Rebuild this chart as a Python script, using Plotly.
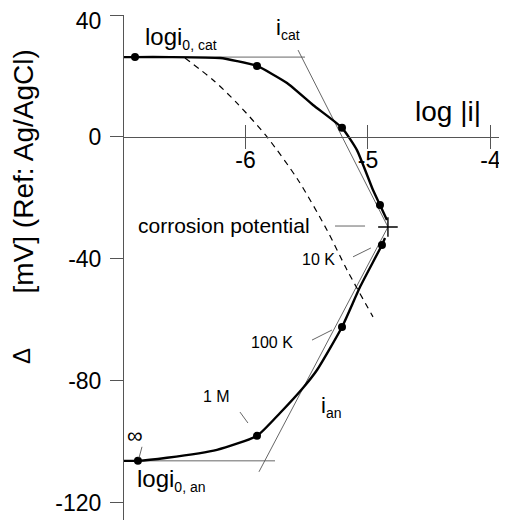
import plotly.graph_objects as go

# ---------------- data (log|i| vs potential in mV) ----------------
cat_logi = [-7.0, -6.902, -6.616, -6.208, -6.069, -5.906, -5.661, -5.449, -5.212, -5.090, -4.959, -4.902, -4.845]
cat_E = [26.2, 26.2, 26.2, 25.9, 24.9, 23.3, 17.7, 10.5, 3.0, -4.3, -17.4, -22.3, -27.2]

an_logi = [-4.861, -4.886, -5.065, -5.212, -5.416, -5.531, -5.718, -5.906, -6.233, -6.641, -6.878, -7.0]
an_E = [-33.1, -35.4, -49.2, -62.3, -76.4, -82.3, -90.5, -98.0, -102.6, -105.2, -106.2, -106.2]

pt_logi = [-6.902, -5.906, -5.212, -4.902, -4.886, -5.212, -5.906, -6.878]
pt_E = [26.2, 23.3, 3.0, -22.3, -35.4, -62.3, -98.0, -106.2]

dash_logi = [-6.494, -6.265, -6.069, -5.824, -5.571, -5.335, -5.171, -4.959]
dash_E = [25.9, 18.7, 11.1, 0.0, -14.1, -30.5, -43.6, -59.0]

corr_logi = [-4.837]
corr_E = [-29.5]

tafel_cat_logi = [-5.571, -4.837]
tafel_cat_E = [28.5, -29.5]
tafel_an_logi = [-4.837, -5.890]
tafel_an_E = [-29.5, -109.8]

i0_cat_logi = [-7.0, -5.514]
i0_cat_E = [26.2, 26.2]
i0_an_logi = [-7.0, -5.759]
i0_an_E = [-106.2, -106.2]

x_ticks = [-6, -5, -4]
x_ticklabels = ["-6", "-5", "-4"]
y_ticks = [0, -40, -80, -120]
y_ticklabels = ["0", "-40", "-80", "-120"]
y_top_tick = [40]
y_top_ticklabel = ["40"]

x_range = [-7.0, -3.865]
y_range = [-125.6, 40.0]

FONT = "Liberation Sans, Arial, sans-serif"
THIN = "#555555"

fig = go.Figure()

for xs, ys in [(i0_cat_logi, i0_cat_E), (i0_an_logi, i0_an_E),
               (tafel_cat_logi, tafel_cat_E), (tafel_an_logi, tafel_an_E)]:
    fig.add_trace(go.Scatter(x=xs, y=ys, mode="lines",
                             line=dict(color=THIN, width=0.9),
                             hoverinfo="skip", showlegend=False))

fig.add_trace(go.Scatter(x=dash_logi, y=dash_E, mode="lines",
                         line=dict(color="black", width=1.2, dash="6px,5px", shape="spline", smoothing=0.8),
                         hoverinfo="skip", showlegend=False))

fig.add_trace(go.Scatter(x=cat_logi, y=cat_E, mode="lines",
                         line=dict(color="black", width=2.4, shape="spline", smoothing=0.5),
                         showlegend=False))
fig.add_trace(go.Scatter(x=an_logi, y=an_E, mode="lines",
                         line=dict(color="black", width=2.4, shape="spline", smoothing=0.5),
                         showlegend=False))

fig.add_trace(go.Scatter(x=pt_logi, y=pt_E, mode="markers",
                         marker=dict(color="black", size=8, symbol="circle"),
                         showlegend=False))

fig.add_trace(go.Scatter(x=corr_logi, y=corr_E, mode="markers",
                         marker=dict(symbol="cross-thin", size=14,
                                     line=dict(color="black", width=1.4)),
                         showlegend=False))

# helper traces for the overlaid axes (upward x tick marks, top y tick label)
fig.add_trace(go.Scatter(x=[None], y=[None], xaxis="x2", mode="lines",
                         hoverinfo="skip", showlegend=False))
fig.add_trace(go.Scatter(x=[None], y=[None], yaxis="y2", mode="lines",
                         hoverinfo="skip", showlegend=False))

xpos = (0 - y_range[0]) / (y_range[1] - y_range[0])

ytick_common = dict(ticks="outside", ticklen=13, tickcolor=THIN, tickwidth=1,
                    ticklabelstandoff=4, ticklabeloverflow="allow",
                    tickfont=dict(size=23, family=FONT), tickmode="array",
                    showgrid=False, zeroline=False)

# the page body adds an 8px margin; the figure is sized to fill the rest of the window
fig.update_layout(
    width=499, height=512,
    margin=dict(l=115, r=0, t=7, b=0, autoexpand=False),
    paper_bgcolor="white", plot_bgcolor="white",
    font=dict(family=FONT, color="black"),
    xaxis=dict(range=x_range, anchor="free", position=xpos,
               showline=True, linecolor=THIN, linewidth=1,
               showgrid=False, zeroline=False,
               tickmode="array", tickvals=x_ticks, ticktext=x_ticklabels,
               ticks="outside", ticklen=11, tickcolor=THIN, tickwidth=1,
               ticklabelstandoff=-9, ticklabeloverflow="allow",
               tickfont=dict(size=23, family=FONT)),
    xaxis2=dict(range=x_range, overlaying="x", anchor="free", position=xpos,
                showline=False, showgrid=False, zeroline=False,
                tickmode="array", tickvals=x_ticks,
                ticks="inside", ticklen=12, tickcolor=THIN, tickwidth=1,
                showticklabels=False),
    yaxis=dict(range=y_range, anchor="free", position=0,
               showline=True, linecolor=THIN, linewidth=1,
               tickvals=y_ticks, ticktext=y_ticklabels, **ytick_common),
    yaxis2=dict(range=y_range, overlaying="y", anchor="free", position=0,
                showline=False, ticklabelshift=6,
                tickvals=y_top_tick, ticktext=y_top_ticklabel, **ytick_common),
)

# leader lines for annotations
leaders = [
    ((-5.269, -29.2), (-5.024, -29.2)),
    ((-5.122, -39.3), (-4.976, -36.4)),
    ((-5.457, -66.6), (-5.294, -63.3)),
    ((-6.045, -90.2), (-5.980, -93.8)),
    ((-6.845, -101.6), (-6.869, -105.2)),
]
for (x0, y0), (x1, y1) in leaders:
    fig.add_shape(type="line", xref="x", yref="y", x0=x0, y0=y0, x1=x1, y1=y1,
                  line=dict(color=THIN, width=0.9))

def ann(text, x, y, size, xanchor="center", yanchor="middle", **kw):
    fig.add_annotation(text=text, x=x, y=y, xref="x", yref="y", showarrow=False,
                       xanchor=xanchor, yanchor=yanchor,
                       font=dict(size=size, family=FONT, color="black"), **kw)

SUB = "<sub><span style='font-size:14px'>{}</span></sub>"
ann("logi" + SUB.format("0, cat"), -6.84, 32.5, 24, xanchor="left")
ann("i" + SUB.format("cat"), -5.77, 35.5, 22, xanchor="left")
ann("log |i|", -4.347, 8.2, 28)
ann("corrosion potential", -5.46, -29.0, 21, xanchor="right")
ann("10 K", -5.408, -40.3, 16)
ann("100 K", -5.784, -67.5, 16)
ann("1 M", -6.233, -85.2, 16)
ann("\u221e", -6.902, -98.0, 22)
ann("logi" + SUB.format("0, an"), -6.90, -112.5, 24, xanchor="left")
ann("i" + SUB.format("an"), -5.40, -88.5, 22, xanchor="left")

# y-axis title (rotated), placed in paper coordinates
fig.add_annotation(text="\u0394", x=-0.263, y=0.325, xref="paper", yref="paper",
                   xanchor="center", yanchor="middle",
                   showarrow=False, textangle=-90,
                   font=dict(size=24, family=FONT, color="black"))
fig.add_annotation(text="[mV] (Ref: Ag/AgCl)", x=-0.258, y=0.69, xref="paper", yref="paper",
                   xanchor="center", yanchor="middle",
                   showarrow=False, textangle=-90,
                   font=dict(size=28, family=FONT, color="black"))

fig.write_html("out.html")
